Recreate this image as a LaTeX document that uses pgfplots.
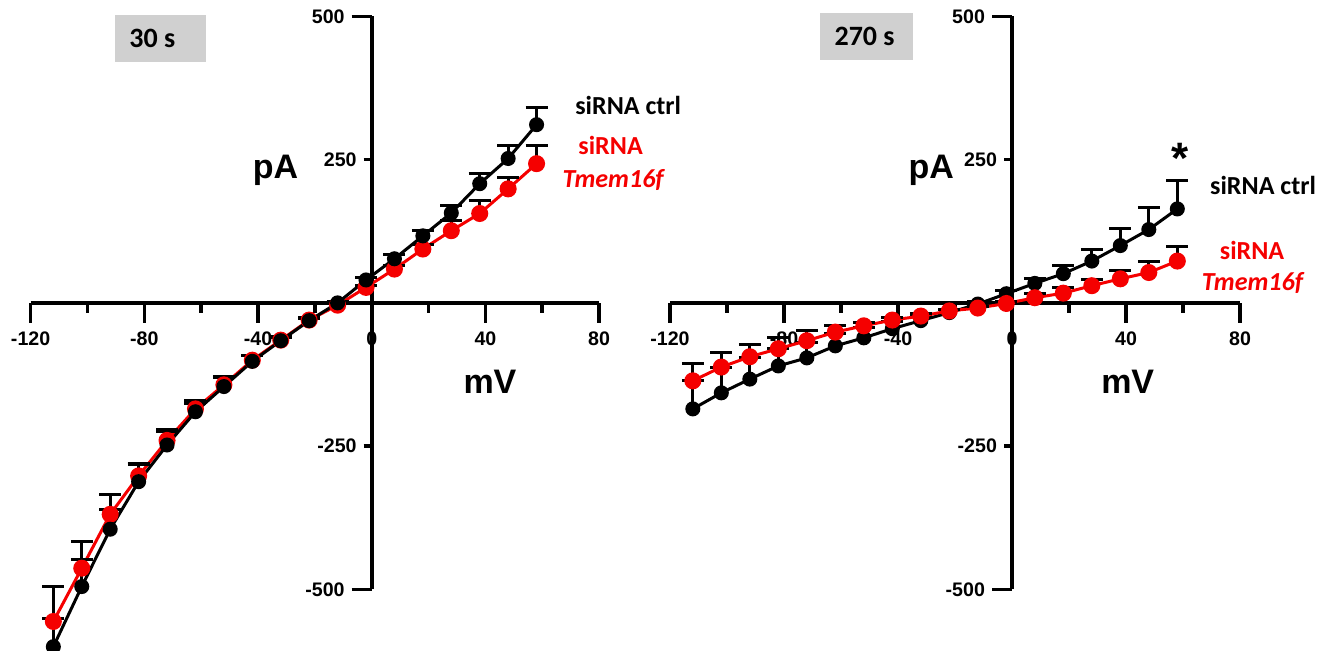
\documentclass[border=0pt]{standalone}
\usepackage{fontspec}
\setmainfont{Liberation Sans}
\newfontfamily\calibri{Carlito}
\usepackage{pgfplots}
\usepackage{pgfplotstable}
\pgfplotsset{compat=1.18}
\definecolor{boxgray}{HTML}{D0D0D0}
\definecolor{ivred}{HTML}{F50000}

% 30 s
\pgfplotstableread{
x y e
-112 -600 49
-102 -495 48
-92 -395 35
-82 -312 30
-72 -248 23
-62 -190 15
-52 -146 15
-42 -102 10
-32 -66 6
-22 -31 4
-12 0 3
-2 40 4
8 77 7
18 117 9
28 157 13
38 208 17
48 252 22
58 311 30
}\ctrlA
\pgfplotstableread{
x y e
-112 -556 61
-102 -463 47
-92 -369 35
-82 -302 22
-72 -240 19
-62 -185 14
-52 -143 14
-42 -100 9
-32 -65 6
-22 -30 4
-12 -4 3
-2 27 4
8 59 6
18 94 8
28 126 17
38 156 22
48 199 20
58 243 31
}\tmemA
% 270 s
\pgfplotstableread{
x y e
-112 -185 49
-102 -157 45
-92 -133 37
-82 -110 30
-72 -96 27
-62 -75 22
-52 -61 18
-42 -45 13
-32 -31 9
-22 -17 5
-12 -2 4
-2 16 6
8 34 9
18 51 14
28 73 21
38 100 29
48 128 38
58 164 49
}\ctrlB
\pgfplotstableread{
x y e
-112 -136 31
-102 -112 26
-92 -94 22
-82 -80 19
-72 -66 17
-62 -51 11
-52 -40 6
-42 -30 5
-32 -23 4
-22 -14 3
-12 -9 3
-2 -1 3
8 9 8
18 17 10
28 30 10
38 42 14
48 53 20
58 73 25
}\tmemB

\pgfplotsset{
  ivaxis/.style={
    scale only axis, height=286.5pt,
    xmin=-120, xmax=80, ymin=-500, ymax=500,
    axis lines=middle, axis line style={line width=1.8pt,-},
    enlargelimits=false, clip=false,
    xtick={-120,-80,-40,0,40,80}, minor xtick={-100,-60,-20,20,60},
    ytick={-500,500}, extra y ticks={-250,250},
    extra y tick style={major tick length=4pt},
    major tick length=10pt, minor tick length=5pt,
    tick align=outside,
    tick style={line width=1.8pt, black},
    hide obscured x ticks=false, hide obscured y ticks=false,
    ticklabel style={font=\bfseries\fontsize{9.8}{11}\selectfont},
    xticklabel style={yshift=-1pt},
    /pgf/number format/assume math mode=true,
  },
  ctrl/.style={black, line width=1.5pt, mark=*, mark size=3pt,
    mark options={solid, fill=black},
    error bars/.cd, y dir=plus, y explicit,
    error bar style={line width=1.5pt, black},
    error mark options={rotate=90, mark size=5.5pt, line width=1.5pt, black}},
  tmem/.style={ivred, line width=1.5pt, mark=*, mark size=3.5pt,
    mark options={solid, fill=ivred},
    error bars/.cd, y dir=plus, y explicit,
    error bar style={line width=1.5pt, black},
    error mark options={rotate=90, mark size=5.5pt, line width=1.5pt, black}},
}
\tikzset{
  lbl/.style={anchor=west, inner sep=0pt, font=\calibri\bfseries\fontsize{13}{15}\selectfont},
  unit/.style={font=\bfseries\fontsize{17}{19}\selectfont},
}

\begin{document}
\begin{tikzpicture}
% ---- left panel: 30 s
\begin{axis}[ivaxis, width=284.25pt, at={(15.3pt,30.8pt)}, anchor=south west]
\fill[boxgray] (axis cs:-90.3,420) rectangle (axis cs:-58.3,502);
\node[lbl, font=\calibri\bfseries\fontsize{14}{16}\selectfont] at (axis cs:-85.4,461) {30 s};
\addplot[tmem] table[x=x, y=y, y error=e] {\tmemA};
\addplot[ctrl] table[x=x, y=y, y error=e] {\ctrlA};
\node[unit] at (axis cs:-33.8,232) {pA};
\node[unit] at (axis cs:41.6,-138) {mV};
\node[lbl] at (axis cs:71.5,345) {siRNA ctrl};
\node[lbl, text=ivred] at (axis cs:72.6,275) {siRNA};
\node[lbl, text=ivred, font=\calibri\bfseries\itshape\fontsize{13}{15}\selectfont] at (axis cs:67,214) {Tmem16f};
\end{axis}
% ---- right panel: 270 s
\begin{axis}[ivaxis, width=285pt, at={(335pt,30.8pt)}, anchor=south west]
\fill[boxgray] (axis cs:-67.3,424) rectangle (axis cs:-34.6,506);
\node[lbl, font=\calibri\bfseries\fontsize{14}{16}\selectfont] at (axis cs:-62.4,465) {270 s};
\addplot[ctrl] table[x=x, y=y, y error=e] {\ctrlB};
\addplot[tmem] table[x=x, y=y, y error=e] {\tmemB};
\node[unit] at (axis cs:-28.3,232) {pA};
\node[unit] at (axis cs:40.6,-138) {mV};
\node[font=\bfseries\fontsize{22}{24}\selectfont] at (axis cs:58.8,252) {*};
\node[lbl] at (axis cs:69.4,205) {siRNA ctrl};
\node[lbl, text=ivred] at (axis cs:72.8,92) {siRNA};
\node[lbl, text=ivred, font=\calibri\bfseries\itshape\fontsize{13}{15}\selectfont] at (axis cs:66.5,34.5) {Tmem16f};
\end{axis}
\pgfresetboundingbox
\path[use as bounding box] (0,0) rectangle (668pt,325.5pt);
\end{tikzpicture}
\end{document}
